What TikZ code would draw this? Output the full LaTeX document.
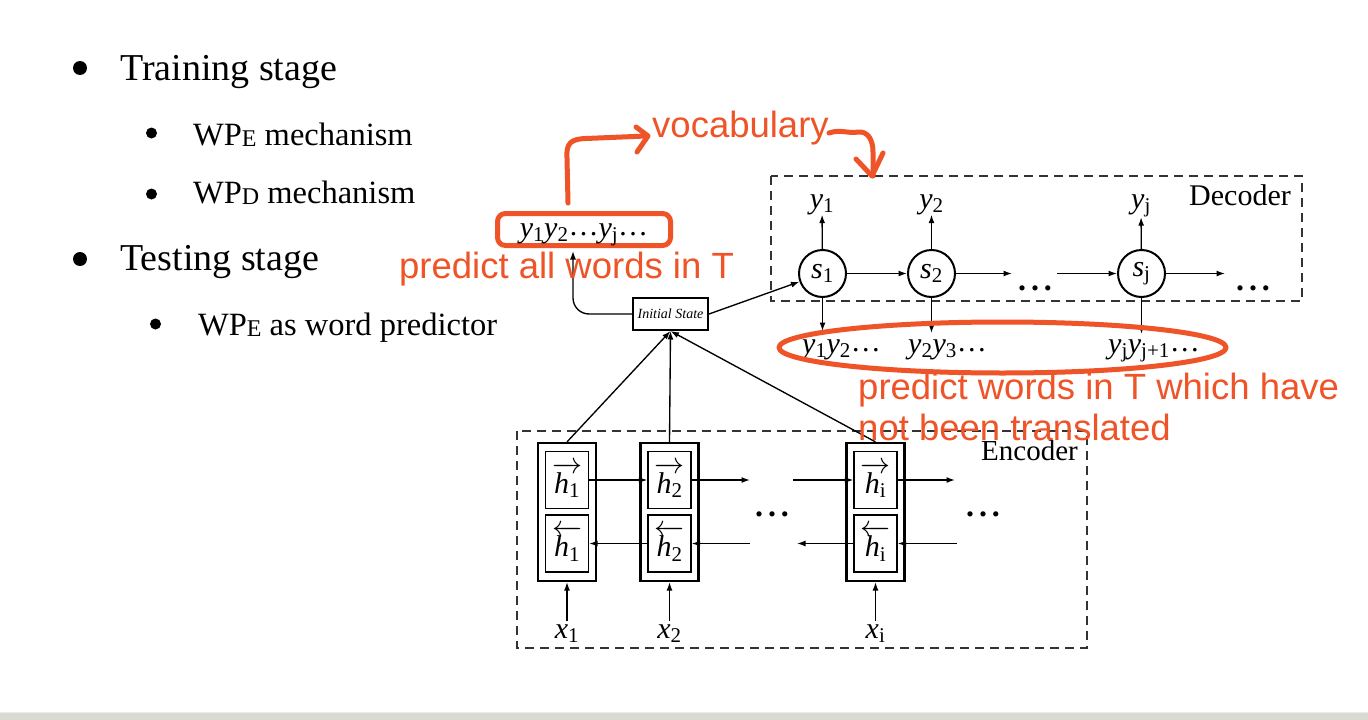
\RequirePackage{fix-cm}
\documentclass[tikz,border=0pt]{standalone}
\usepackage{fontspec}
\setmainfont{Liberation Serif}
\newfontfamily\annfont{Liberation Sans}
\usetikzlibrary{arrows.meta}
\definecolor{ann}{RGB}{239,84,40}
\definecolor{dashc}{RGB}{51,51,51}
\definecolor{band}{RGB}{217,218,210}
\definecolor{bandlight}{RGB}{236,236,232}
\newcommand\fs[1]{\fontsize{#1}{#1}\selectfont}
\newcommand\vy[1]{\textit{y}\textsubscript{\upshape #1}}
\newcommand\vx[1]{\textit{x}\textsubscript{\upshape #1}}
\newcommand\vs[1]{\textit{s}\textsubscript{\upshape #1}}
\newcommand\hfw[1]{$\overrightarrow{\mbox{\textit{h}\textsubscript{\upshape #1}}}$}
\newcommand\hbw[1]{$\overleftarrow{\mbox{\textit{h}\textsubscript{\upshape #1}}}$}
\newcommand\lowsub[1]{\raisebox{-1.5pt}{\fs{24}#1}}
\newcommand\dts{\raisebox{2pt}{\ldots}}
\newcommand\bigdots{{\bfseries\fs{32}.\hspace{5pt}.\hspace{5pt}.}}
\begin{document}
\begin{tikzpicture}[x=1pt,y=-1pt,
  >={Latex[length=8.5pt,width=6pt]},
  cellout/.style={draw, line width=2.2pt, minimum width=58pt, minimum height=138pt, inner sep=0pt},
  cellin/.style={draw, line width=1.3pt, minimum width=43pt, minimum height=57pt, inner sep=0pt, font=\fs{30}},
  dec/.style={circle, draw, line width=2pt, minimum size=47pt, inner sep=0pt, font=\fs{30}},
  lab/.style={inner sep=0pt, font=\fs{30}},
  dashbox/.style={draw=dashc, dash pattern=on 9pt off 6pt, line width=1.4pt},
  arr/.style={->, line width=1.35pt},
  annline/.style={draw=ann, line width=5pt, line cap=round, line join=round},
  anntext/.style={text=ann, font=\annfont\fs{36.5}, inner sep=0pt, anchor=base west},
  bl/.style={font=\fs{38}, inner sep=0pt, anchor=base west},
  bls/.style={font=\fs{32.5}, inner sep=0pt, anchor=base west},
  initbox/.style={draw, line width=2pt, minimum width=75pt, minimum height=32pt, inner sep=0pt, font=\itshape\fs{14}}
]
\useasboundingbox (0,0) rectangle (1368,720);
\fill[white] (0,0) rectangle (1368,720);
\fill[band] (0,713) rectangle (1368,720);
\draw[bandlight, line width=1pt] (0,712.5) -- (1368,712.5);

% bullet list
\fill (80,68) circle [radius=7pt];
\fill (151.5,133) circle [radius=5.5pt];
\fill (151.5,194) circle [radius=5.5pt];
\fill (80,259) circle [radius=7pt];
\fill (155.5,324) circle [radius=5.5pt];
\node[bl] (t1) at (120,80) {Training stage};
\node[bls] (t2) at (193,145) {WP\lowsub{E} mechanism};
\node[bls] (t3) at (193,203) {WP\lowsub{D} mechanism};
\node[bl] (t4) at (120,270) {Testing stage};
\node[bls] (t5) at (198,335) {WP\lowsub{E} as word predictor};

% dashed frames
\draw[dashbox] (771,176) rectangle (1302,301);
\draw[dashbox] (517,431) rectangle (1087,648);
\node[anchor=base east, inner sep=0pt, font=\fs{30}] (declab) at (1291,205) {Decoder};
\node[anchor=base east, inner sep=0pt, font=\fs{29}] (enclab) at (1078,460) {Encoder};

% encoder cells
\node[cellout] (c1) at (567,512) {};
\node[cellout] (c2) at (669.5,512) {};
\node[cellout] (c3) at (875.5,512) {};
\node[cellin] (h1f) at (567,480) {\hfw{1}};
\node[cellin] (h1b) at (567,543.5) {\hbw{1}};
\node[cellin] (h2f) at (669.5,480) {\hfw{2}};
\node[cellin] (h2b) at (669.5,543.5) {\hbw{2}};
\node[cellin] (hif) at (875.5,480) {\hfw{i}};
\node[cellin] (hib) at (875.5,543.5) {\hbw{i}};

\coordinate (ef1) at (750,480);
\coordinate (ef2) at (793,480);
\coordinate (ef3) at (955,480);
\coordinate (eb1) at (750,543.5);
\coordinate (eb2) at (797,543.5);
\coordinate (eb3) at (957,543.5);
\draw[arr] (h1f.east) -- (h2f.west);
\draw[arr] (h2f.east) -- (ef1);
\draw[arr] (ef2) -- (hif.west);
\draw[arr] (hif.east) -- (ef3);
\draw[arr] (h2b.west) -- (h1b.east);
\draw[arr] (eb1) -- (h2b.east);
\draw[arr] (hib.west) -- (eb2);
\draw[arr] (eb3) -- (hib.east);
\node[lab, anchor=base] (edots1) at (772,516) {\bigdots};
\node[lab, anchor=base] (edots2) at (983,516) {\bigdots};

\node[lab, anchor=base, inner sep=3pt] (x1) at (567,638) {\vx{1}};
\node[lab, anchor=base, inner sep=3pt] (x2) at (669.5,638) {\vx{2}};
\node[lab, anchor=base, inner sep=3pt] (xi) at (875.5,638) {\vx{i}};
\draw[arr] (x1) -- (c1.south);
\draw[arr] (x2) -- (c2.south);
\draw[arr] (xi) -- (c3.south);

% initial state
\node[initbox] (init) at (670.5,314) {Initial State};
\draw[arr] (c1.north) -- (init.south);
\draw[arr] (c2.north) -- (init.south);
\draw[arr] (c3.north) -- (init.south);

% predicted list box
\node[annline, rounded corners=8pt, anchor=base, inner sep=0pt, minimum width=173pt,
      text height=23.5pt, text depth=8.5pt, font=\fs{30}, text=black] (ylist) at (584,237)
      {\vy{1}\vy{2}\dts\vy{j}\dts};
\draw[arr, rounded corners=16pt, shorten >=3pt] (init.west) -| ([xshift=-11pt]ylist.south);

% decoder
\node[dec] (s1) at (822.5,273.5) {\vs{1}};
\node[dec] (s2) at (931.5,273.5) {\vs{2}};
\node[dec] (sj) at (1141.5,273.5) {\vs{j}};
\draw[arr] (init.east) -- (s1);
\node[lab, anchor=base] (y1) at (822,208) {\vy{1}};
\node[lab, anchor=base] (y2) at (931.5,208) {\vy{2}};
\node[lab, anchor=base] (yj) at (1141,208) {\vy{j}};
\draw[arr] (s1) -- (y1);
\draw[arr] (s2) -- (y2);
\draw[arr] (sj) -- (yj);
\coordinate (d1) at (822.5,331);
\coordinate (d2) at (931.5,333);
\coordinate (dj) at (1141.5,334);
\draw[arr] (s1) -- (d1);
\draw[arr] (s2) -- (d2);
\draw[arr] (sj) -- (dj);
\coordinate (g1) at (1012,273.5);
\coordinate (g2) at (1057,273.5);
\coordinate (g3) at (1225,273.5);
\draw[arr] (s1) -- (s2);
\draw[arr] (s2) -- (g1);
\draw[arr] (g2) -- (sj);
\draw[arr] (sj) -- (g3);
\node[lab, anchor=base] (ddots1) at (1035,290) {\bigdots};
\node[lab, anchor=base] (ddots2) at (1253,290) {\bigdots};

\node[lab, anchor=base west] (p1) at (802,353) {\vy{1}\vy{2}\dts};
\node[lab, anchor=base west] (p2) at (908,353) {\vy{2}\vy{3}\dts};
\node[lab, anchor=base west] (pj) at (1108,353) {\vy{j}\vy{j+1}\dts};

% annotations
\draw[annline] (1002.5,347.5) ellipse [x radius=223.5, y radius=25.5];
\node[anntext] (voc) at (652,137) {vocabulary};
\node[anntext] (pall) at (399,278) {predict all words in T};
\node[anntext] (pnot1) at (858,399) {predict words in T which have};
\node[anntext] (pnot2) at (858,440) {not been translated};
\draw[annline] ([yshift=8pt]ylist.north -| 568,0) -- (567,158) .. controls (566,143) and (571,139) .. (586,138.5) -- (646,136);
\draw[annline] (636,127) -- (648,136) -- (637,152);
\draw[annline] (829,133) .. controls (840,129) and (850,134) .. (858,132) .. controls (868,131) and (873,140) .. (873,152) -- (873,176);
\draw[annline] (856,159) -- (872,176) -- (883,153);
\end{tikzpicture}
\end{document}
